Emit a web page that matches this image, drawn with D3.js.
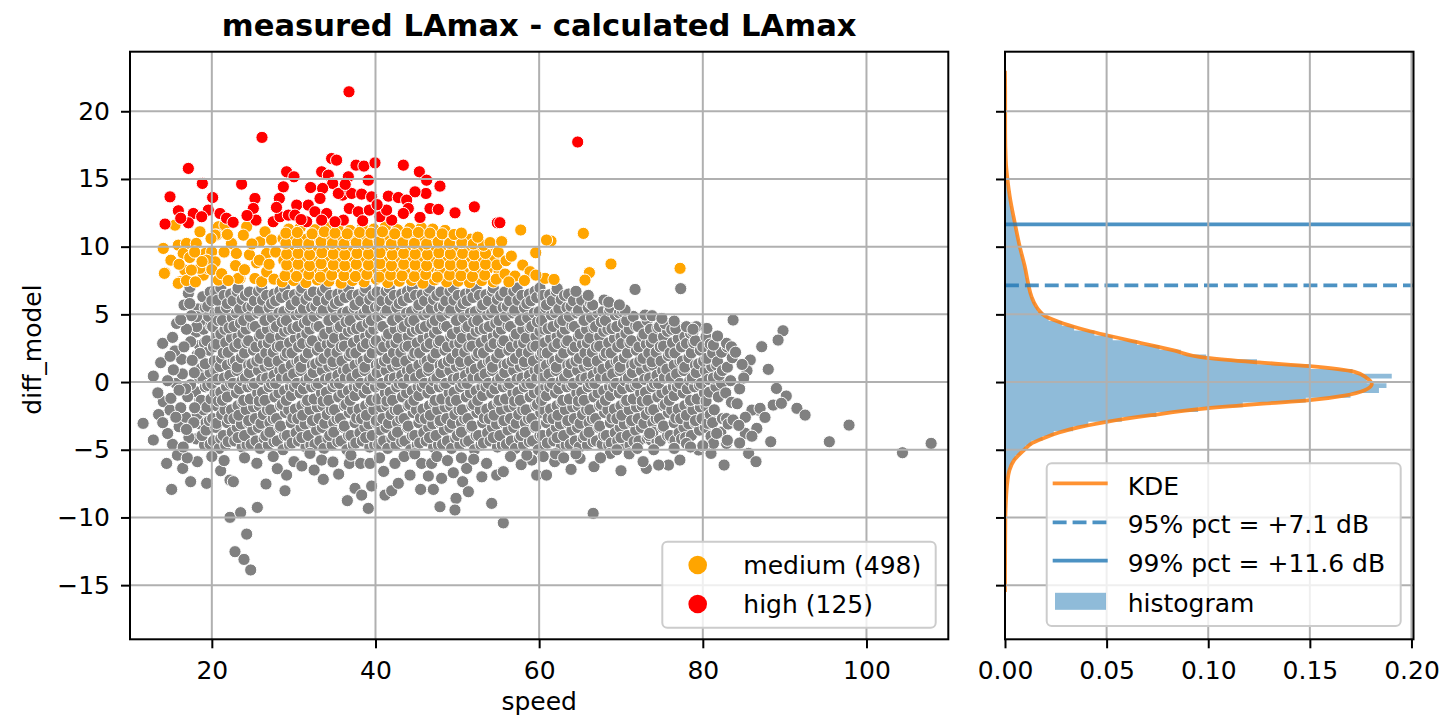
<!DOCTYPE html>
<html>
<head>
<meta charset="utf-8">
<script src="https://cdn.jsdelivr.net/npm/d3@7"></script>
<style>
body { margin: 0; background: #fff; }
svg { display: block; font-family: "DejaVu Sans", sans-serif; }
</style>
</head>
<body>
<svg id="chart" width="1448" height="719"></svg>
<script>
// ---- data ----
var speedTicks = [20, 40, 60, 80, 100];
var diffTicks = [-15, -10, -5, 0, 5, 10, 15, 20];
var densityTicks = [0, 0.05, 0.10, 0.15, 0.20];

var classNames = ['medium', 'high'];
var classCounts = [498, 125];

// percentile lines (dB)
var pct95 = 7.14;
var pct99 = 11.64;

// high points [speed, diff]
var highPts = [
  [36.76,21.44],[26.13,18.07],[17.13,15.78],[18.84,14.67],[14.89,13.68],[20.1,13.63],[23.64,14.62],
  [15.91,12.65],[17.74,12.45],[19.57,12.7],[21.0,12.45],[14.28,11.67],[17.13,11.76],[18.76,12.21],
  [21.8,12.1],[25.27,13.56],[25.07,12.82],[25.4,11.96],[27.5,11.84],[28.33,12.21],[28.25,13.56],
  [28.74,14.42],[29.14,15.53],[30.04,15.16],[30.37,13.07],[29.35,12.33],[30.16,12.33],[31.79,13.07],
  [32.08,14.37],[33.42,15.53],[34.64,16.51],[35.25,16.39],[34.24,15.28],[34.77,14.67],[33.54,14.3],
  [33.22,13.56],[32.6,12.58],[34.03,12.45],[33.42,11.96],[31.59,11.84],[36.68,15.16],[37.62,16.02],
  [38.59,15.95],[39.94,16.19],[39.12,14.91],[35.99,13.81],[37.09,13.93],[38.31,13.88],[39.53,13.68],
  [36.8,12.82],[37.9,12.58],[39.25,12.7],[36.07,11.96],[38.43,11.91],[40.55,12.21],[41.57,13.73],
  [42.79,13.63],[43.4,16.02],[45.36,15.53],[46.25,14.91],[47.88,14.47],[46.17,13.93],[44.83,14.05],
  [43.81,13.44],[44.01,12.82],[43.4,12.45],[45.44,12.16],[46.66,12.82],[47.68,12.75],[49.72,12.5],
  [52.08,12.94],[54.89,11.76],[41.98,11.96],[41.36,12.7],[35.05,11.84],[35.46,13.93],[64.71,17.73],
  [55.2,11.77],[30.9,12.0],[27.9,12.9],[24.3,12.3],[16.2,12.1],[22.6,11.8],[40.2,13.1],[36.3,14.6]
];

// medium points [speed, diff]
var mediumPts = [
  [15.5,11.59],[14.07,9.87],[14.28,8.07],[15.9,10.11],[16.9,10.24],[16.5,9.5],[18.55,11.1],[18.1,10.24],
  [19.2,9.5],[19.98,9.62],[16.7,8.27],[16.11,7.41],[18.96,7.9],[19.57,8.39],[20.4,8.88],[20.8,7.53],
  [20.8,11.47],[21.6,11.59],[20.59,10.85],[22.42,10.24],[23.44,7.65],[24.26,11.47],[23.85,10.85],
  [25.48,8.81],[25.27,7.65],[26.09,7.41],[26.7,8.14],[25.88,10.36],[26.5,11.1],[26.7,9.5],
  [14.2,8.03],[15.9,7.29],[16.9,7.5],[18.55,8.4],[19.37,9.0],[20.4,10.86],[22.4,10.24],[23.24,7.66],
  [17.5,8.27],[27.3,10.5],[27.6,7.6],[24.6,9.4],[17.3,9.2],[21.5,9.6],[22.9,8.6],[19.9,10.6],
  [15.0,9.0],[16.0,8.7],[17.9,9.6],[18.8,8.9],[20.0,8.3],[21.2,8.0],[21.9,10.9],[23.0,9.5],
  [24.0,8.3],[24.9,10.2],[25.8,9.0],[27.0,8.7],[27.8,9.6],[22.0,7.5],[18.0,7.4],
  [28.6,7.4],[30.0,7.5],[31.5,7.35],[32.9,7.55],[34.3,7.45],[35.8,7.3],[37.2,7.5],[38.6,7.4],[40.1,7.6],
  [41.5,7.35],[42.9,7.45],[44.4,7.5],[45.8,7.3],[47.2,7.55],[48.7,7.4],[50.1,7.45],[51.5,7.35],[53.0,7.5],[54.4,7.4],
  [29.3,8.3],[30.7,8.15],[32.2,8.35],[33.6,8.2],[35.0,8.25],[36.5,8.4],[37.9,8.1],[39.3,8.3],[40.8,8.2],
  [42.2,8.35],[43.6,8.15],[45.1,8.25],[46.5,8.4],[47.9,8.2],[49.4,8.3],[50.8,8.1],[52.2,8.25],[53.7,8.35],[55.1,8.2],
  [28.8,9.0],[30.2,9.15],[31.6,8.95],[33.0,9.1],[34.5,9.05],[35.9,8.9],[37.3,9.2],[38.8,9.0],[40.2,9.1],
  [41.6,8.95],[43.1,9.05],[44.5,9.15],[45.9,9.0],[47.4,8.9],[48.8,9.1],[50.2,9.05],[51.7,8.95],[53.1,9.1],[54.5,9.0],
  [29.5,9.8],[30.9,9.9],[32.3,9.75],[33.8,9.95],[35.2,9.85],[36.6,9.7],[38.1,9.9],[39.5,9.8],[40.9,9.95],
  [42.4,9.75],[43.8,9.85],[45.2,9.9],[46.7,9.8],[48.1,9.7],[49.5,9.9],[51.0,9.85],[52.4,9.75],[53.8,9.9],
  [28.7,10.6],[30.1,10.7],[31.5,10.55],[33.0,10.75],[34.4,10.65],[35.8,10.5],[37.3,10.7],[38.7,10.6],[40.1,10.75],
  [41.6,10.55],[43.0,10.65],[44.4,10.7],[45.9,10.6],[47.3,10.5],[48.7,10.7],[50.2,10.65],[51.6,10.55],
  [29.4,11.3],[30.8,11.4],[32.6,11.25],[34.1,11.45],[35.4,11.35],[36.9,11.2],[38.4,11.4],[39.8,11.3],
  [41.2,11.45],[42.7,11.25],[44.2,11.35],[45.6,11.4],[47.0,11.3],[48.5,11.2],
  [28.95,7.85],[30.35,7.8],[31.85,7.95],[33.25,7.75],[34.65,7.9],[36.15,7.85],[37.55,7.8],[38.95,7.95],[40.45,7.75],
  [41.85,7.9],[43.25,7.85],[44.75,7.8],[46.15,7.95],[47.55,7.75],[49.05,7.9],[50.45,7.85],[51.85,7.8],[53.35,7.9],[54.75,7.6],
  [29.15,8.65],[30.55,8.7],[31.95,8.6],[33.35,8.75],[34.85,8.65],[36.25,8.6],[37.65,8.7],[39.15,8.65],[40.55,8.75],
  [41.95,8.6],[43.45,8.7],[44.85,8.65],[46.25,8.6],[47.75,8.75],[49.15,8.65],[50.55,8.7],[52.05,8.6],[53.45,8.7],[54.85,8.65],
  [29.15,9.45],[30.55,9.5],[31.95,9.4],[33.45,9.55],[34.85,9.45],[36.25,9.4],[37.75,9.5],[39.15,9.45],[40.55,9.55],
  [42.05,9.4],[43.45,9.5],[44.85,9.45],[46.35,9.4],[47.75,9.55],[49.15,9.45],[50.65,9.5],[52.05,9.4],[53.45,9.5],
  [29.05,10.25],[30.45,10.3],[31.85,10.2],[33.35,10.35],[34.75,10.25],[36.15,10.2],[37.65,10.3],[39.05,10.25],[40.45,10.35],
  [41.95,10.2],[43.35,10.3],[44.75,10.25],[46.25,10.2],[47.65,10.35],[49.05,10.25],[50.55,10.3],[51.95,10.2],[53.2,10.1],
  [29.05,11.0],[30.45,11.05],[32.25,10.95],[33.75,11.1],[35.05,11.0],[36.55,10.95],[38.05,11.05],[39.45,11.0],
  [40.85,11.1],[42.35,10.95],[43.85,11.0],[45.25,11.05],[46.65,11.0],[48.15,10.95],[49.6,10.9],
  [50.5,11.0],[52.5,10.7],[54.0,10.3],[55.0,9.6],
  [57.75,11.23],[55.42,10.37],[61.45,10.42],[65.4,10.98],[59.58,9.55],[55.95,8.96],[57.99,8.64],
  [55.83,7.98],[57.05,7.83],[58.89,8.15],[60.72,7.66],[61.82,7.58],[66.14,8.08],[65.6,7.53],
  [68.78,8.72],[77.22,8.4],[60.9,10.49],[56.6,9.3],[56.3,7.4],[58.2,7.5],[59.6,7.9]
];

// gray points, dense core, one band per speed step [speed, diff]
var grayBands = [
  [[18.1,-4.2],[18.6,-3.1],[18.2,-2.4],[18.5,-1.4],[18.0,-0.7],[18.4,0.3],[18.7,1.0],[18.2,2.0],[18.5,2.7],[18.1,3.7],[18.6,4.4],[18.3,5.4]],
  [[19.8,-4.6],[19.3,-3.55],[19.7,-2.85],[19.4,-1.85],[19.9,-1.25],[19.5,-0.25],[19.8,0.7],[19.2,1.35],[19.7,2.35],[19.4,3.05],[19.9,4.15],[19.6,4.85],[19.5,5.6],[19.8,6.65]],
  [[20.9,-4.9],[21.1,-4.15],[20.6,-3.05],[21.2,-2.4],[20.8,-1.4],[21.1,-0.75],[20.7,0.2],[21.0,1.15],[21.2,1.75],[20.6,2.8],[21.1,3.55],[20.8,4.55],[21.0,5.3],[20.7,6.05],[21.1,6.95]],
  [[22.0,-4.4],[22.5,-3.7],[22.1,-2.7],[22.4,-2.05],[21.9,-1.1],[22.3,-0.1],[22.2,0.5],[22.6,1.5],[22.0,2.2],[22.4,3.25],[22.1,4.0],[22.5,4.75],[21.9,5.8],[22.3,6.5]],
  [[23.7,-4.8],[23.2,-4.1],[23.6,-3.1],[23.3,-2.45],[23.8,-1.5],[23.4,-0.5],[23.7,0.1],[23.1,1.1],[23.6,1.8],[23.3,2.85],[23.8,3.6],[23.5,4.35],[23.4,5.4],[23.7,6.1],[23.2,6.95]],
  [[24.8,-4.6],[25.0,-3.55],[24.5,-2.85],[25.1,-1.85],[24.7,-1.25],[25.0,-0.25],[24.6,0.7],[24.9,1.35],[25.1,2.35],[24.5,3.05],[25.0,4.15],[24.7,4.85],[24.9,5.6],[24.6,6.65]],
  [[25.9,-4.9],[26.4,-4.15],[26.0,-3.05],[26.3,-2.4],[25.8,-1.4],[26.2,-0.75],[26.1,0.2],[26.5,1.15],[25.9,1.75],[26.3,2.8],[26.0,3.55],[26.4,4.55],[25.8,5.3],[26.2,6.05],[26.1,6.95]],
  [[27.6,-4.4],[27.1,-3.7],[27.5,-2.7],[27.2,-2.05],[27.7,-1.1],[27.3,-0.1],[27.6,0.5],[27.0,1.5],[27.5,2.2],[27.2,3.25],[27.7,4.0],[27.4,4.75],[27.3,5.8],[27.6,6.5]],
  [[28.7,-5.0],[28.9,-3.95],[28.4,-3.25],[29.0,-2.25],[28.6,-1.65],[28.9,-0.65],[28.5,0.3],[28.8,0.95],[29.0,1.95],[28.4,2.65],[28.9,3.75],[28.6,4.45],[28.8,5.2],[28.5,6.25],[28.9,6.95]],
  [[29.8,-4.5],[30.3,-3.75],[29.9,-2.65],[30.2,-2.0],[29.7,-1.0],[30.1,-0.35],[30.0,0.6],[30.4,1.55],[29.8,2.15],[30.2,3.2],[29.9,3.95],[30.3,4.95],[29.7,5.7],[30.1,6.45]],
  [[31.5,-4.8],[31.0,-4.1],[31.4,-3.1],[31.1,-2.45],[31.6,-1.5],[31.2,-0.5],[31.5,0.1],[30.9,1.1],[31.4,1.8],[31.1,2.85],[31.6,3.6],[31.3,4.35],[31.2,5.4],[31.5,6.1],[31.0,6.95]],
  [[32.6,-4.6],[32.8,-3.55],[32.3,-2.85],[32.9,-1.85],[32.5,-1.25],[32.8,-0.25],[32.4,0.7],[32.7,1.35],[32.9,2.35],[32.3,3.05],[32.8,4.15],[32.5,4.85],[32.7,5.6],[32.4,6.65]],
  [[33.7,-4.9],[34.2,-4.15],[33.8,-3.05],[34.1,-2.4],[33.6,-1.4],[34.0,-0.75],[33.9,0.2],[34.3,1.15],[33.7,1.75],[34.1,2.8],[33.8,3.55],[34.2,4.55],[33.6,5.3],[34.0,6.05],[33.9,6.95]],
  [[35.4,-4.4],[34.9,-3.7],[35.3,-2.7],[35.0,-2.05],[35.5,-1.1],[35.1,-0.1],[35.4,0.5],[34.8,1.5],[35.3,2.2],[35.0,3.25],[35.5,4.0],[35.2,4.75],[35.1,5.8],[35.4,6.5]],
  [[36.5,-5.0],[36.7,-3.95],[36.2,-3.25],[36.8,-2.25],[36.4,-1.65],[36.7,-0.65],[36.3,0.3],[36.6,0.95],[36.8,1.95],[36.2,2.65],[36.7,3.75],[36.4,4.45],[36.6,5.2],[36.3,6.25],[36.7,6.95]],
  [[37.6,-4.5],[38.1,-3.75],[37.7,-2.65],[38.0,-2.0],[37.5,-1.0],[37.9,-0.35],[37.8,0.6],[38.2,1.55],[37.6,2.15],[38.0,3.2],[37.7,3.95],[38.1,4.95],[37.5,5.7],[37.9,6.45]],
  [[39.3,-4.8],[38.8,-4.1],[39.2,-3.1],[38.9,-2.45],[39.4,-1.5],[39.0,-0.5],[39.3,0.1],[38.7,1.1],[39.2,1.8],[38.9,2.85],[39.4,3.6],[39.1,4.35],[39.0,5.4],[39.3,6.1],[38.8,6.95]],
  [[40.4,-4.6],[40.6,-3.55],[40.1,-2.85],[40.7,-1.85],[40.3,-1.25],[40.6,-0.25],[40.2,0.7],[40.5,1.35],[40.7,2.35],[40.1,3.05],[40.6,4.15],[40.3,4.85],[40.5,5.6],[40.2,6.65]],
  [[41.5,-4.9],[42.0,-4.15],[41.6,-3.05],[41.9,-2.4],[41.4,-1.4],[41.8,-0.75],[41.7,0.2],[42.1,1.15],[41.5,1.75],[41.9,2.8],[41.6,3.55],[42.0,4.55],[41.4,5.3],[41.8,6.05],[41.7,6.95]],
  [[43.2,-4.4],[42.7,-3.7],[43.1,-2.7],[42.8,-2.05],[43.3,-1.1],[42.9,-0.1],[43.2,0.5],[42.6,1.5],[43.1,2.2],[42.8,3.25],[43.3,4.0],[43.0,4.75],[42.9,5.8],[43.2,6.5]],
  [[44.3,-5.0],[44.5,-3.95],[44.0,-3.25],[44.6,-2.25],[44.2,-1.65],[44.5,-0.65],[44.1,0.3],[44.4,0.95],[44.6,1.95],[44.0,2.65],[44.5,3.75],[44.2,4.45],[44.4,5.2],[44.1,6.25],[44.5,6.95]],
  [[45.4,-4.5],[45.9,-3.75],[45.5,-2.65],[45.8,-2.0],[45.3,-1.0],[45.7,-0.35],[45.6,0.6],[46.0,1.55],[45.4,2.15],[45.8,3.2],[45.5,3.95],[45.9,4.95],[45.3,5.7],[45.7,6.45]],
  [[47.1,-4.8],[46.6,-4.1],[47.0,-3.1],[46.7,-2.45],[47.2,-1.5],[46.8,-0.5],[47.1,0.1],[46.5,1.1],[47.0,1.8],[46.7,2.85],[47.2,3.6],[46.9,4.35],[46.8,5.4],[47.1,6.1],[46.6,6.95]],
  [[48.2,-4.6],[48.4,-3.55],[47.9,-2.85],[48.5,-1.85],[48.1,-1.25],[48.4,-0.25],[48.0,0.7],[48.3,1.35],[48.5,2.35],[47.9,3.05],[48.4,4.15],[48.1,4.85],[48.3,5.6],[48.0,6.65]],
  [[49.3,-4.9],[49.8,-4.15],[49.4,-3.05],[49.7,-2.4],[49.2,-1.4],[49.6,-0.75],[49.5,0.2],[49.9,1.15],[49.3,1.75],[49.7,2.8],[49.4,3.55],[49.8,4.55],[49.2,5.3],[49.6,6.05],[49.5,6.95]],
  [[51.0,-4.4],[50.5,-3.7],[50.9,-2.7],[50.6,-2.05],[51.1,-1.1],[50.7,-0.1],[51.0,0.5],[50.4,1.5],[50.9,2.2],[50.6,3.25],[51.1,4.0],[50.8,4.75],[50.7,5.8],[51.0,6.5]],
  [[52.1,-5.0],[52.3,-3.95],[51.8,-3.25],[52.4,-2.25],[52.0,-1.65],[52.3,-0.65],[51.9,0.3],[52.2,0.95],[52.4,1.95],[51.8,2.65],[52.3,3.75],[52.0,4.45],[52.2,5.2],[51.9,6.25],[52.3,6.95]],
  [[53.2,-4.5],[53.7,-3.75],[53.3,-2.65],[53.6,-2.0],[53.1,-1.0],[53.5,-0.35],[53.4,0.6],[53.8,1.55],[53.2,2.15],[53.6,3.2],[53.3,3.95],[53.7,4.95],[53.1,5.7],[53.5,6.45]],
  [[54.9,-4.8],[54.4,-4.1],[54.8,-3.1],[54.5,-2.45],[55.0,-1.5],[54.6,-0.5],[54.9,0.1],[54.3,1.1],[54.8,1.8],[54.5,2.85],[55.0,3.6],[54.7,4.35],[54.6,5.4],[54.9,6.1],[54.4,6.95]],
  [[56.0,-4.6],[56.2,-3.55],[55.7,-2.85],[56.3,-1.85],[55.9,-1.25],[56.2,-0.25],[55.8,0.7],[56.1,1.35],[56.3,2.35],[55.7,3.05],[56.2,4.15],[55.9,4.85],[56.1,5.6],[55.8,6.65]],
  [[57.1,-4.9],[57.6,-4.15],[57.2,-3.05],[57.5,-2.4],[57.0,-1.4],[57.4,-0.75],[57.3,0.2],[57.7,1.15],[57.1,1.75],[57.5,2.8],[57.2,3.55],[57.6,4.55],[57.0,5.3],[57.4,6.05],[57.3,6.95]],
  [[58.8,-4.4],[58.3,-3.7],[58.7,-2.7],[58.4,-2.05],[58.9,-1.1],[58.5,-0.1],[58.8,0.5],[58.2,1.5],[58.7,2.2],[58.4,3.25],[58.9,4.0],[58.6,4.75],[58.5,5.8],[58.8,6.5]],
  [[59.9,-5.0],[60.1,-3.95],[59.6,-3.25],[60.2,-2.25],[59.8,-1.65],[60.1,-0.65],[59.7,0.3],[60.0,0.95],[60.2,1.95],[59.6,2.65],[60.1,3.75],[59.8,4.45],[60.0,5.2],[59.7,6.25],[60.1,6.95]],
  [[61.0,-4.5],[61.5,-3.75],[61.1,-2.65],[61.4,-2.0],[60.9,-1.0],[61.3,-0.35],[61.2,0.6],[61.6,1.55],[61.0,2.15],[61.4,3.2],[61.1,3.95],[61.5,4.95],[60.9,5.7],[61.3,6.45]],
  [[62.7,-4.8],[62.2,-4.1],[62.6,-3.1],[62.3,-2.45],[62.8,-1.5],[62.4,-0.5],[62.7,0.1],[62.1,1.1],[62.6,1.8],[62.3,2.85],[62.8,3.6],[62.5,4.35],[62.4,5.4],[62.7,6.1],[62.2,6.9]],
  [[63.8,-4.6],[64.0,-3.55],[63.5,-2.85],[64.1,-1.85],[63.7,-1.25],[64.0,-0.25],[63.6,0.7],[63.9,1.35],[64.1,2.35],[63.5,3.05],[64.0,4.15],[63.7,4.85],[63.9,5.6],[63.6,6.5]],
  [[64.9,-4.8],[65.4,-4.15],[65.0,-3.05],[65.3,-2.4],[64.8,-1.4],[65.2,-0.75],[65.1,0.2],[65.5,1.15],[64.9,1.75],[65.3,2.8],[65.0,3.55],[65.4,4.55],[64.8,5.3],[65.2,6.05]],
  [[66.6,-4.4],[66.1,-3.7],[66.5,-2.7],[66.2,-2.05],[66.7,-1.1],[66.3,-0.1],[66.6,0.5],[66.0,1.5],[66.5,2.2],[66.2,3.25],[66.7,4.0],[66.4,4.75],[66.3,5.8]],
  [[67.7,-4.6],[67.9,-3.95],[67.4,-3.25],[68.0,-2.25],[67.6,-1.65],[67.9,-0.65],[67.5,0.3],[67.8,0.95],[68.0,1.95],[67.4,2.65],[67.9,3.75],[67.6,4.45],[67.8,5.2]],
  [[68.8,-4.5],[69.3,-3.75],[68.9,-2.65],[69.2,-2.0],[68.7,-1.0],[69.1,-0.35],[69.0,0.6],[69.4,1.55],[68.8,2.15],[69.2,3.2],[68.9,3.95],[69.3,4.95],[68.7,5.5]],
  [[70.5,-4.6],[70.0,-4.1],[70.4,-3.1],[70.1,-2.45],[70.6,-1.5],[70.2,-0.5],[70.5,0.1],[69.9,1.1],[70.4,1.8],[70.1,2.85],[70.6,3.6],[70.3,4.35],[70.2,5.2]],
  [[71.6,-4.4],[71.8,-3.55],[71.3,-2.85],[71.9,-1.85],[71.5,-1.25],[71.8,-0.25],[71.4,0.7],[71.7,1.35],[71.9,2.35],[71.3,3.05],[71.8,4.15],[71.5,4.85]],
  [[73.2,-4.15],[72.8,-3.05],[73.1,-2.4],[72.6,-1.4],[73.0,-0.75],[72.9,0.2],[73.3,1.15],[72.7,1.75],[73.1,2.8],[72.8,3.55],[73.2,4.55]],
  [[74.4,-4.4],[73.9,-3.7],[74.3,-2.7],[74.0,-2.05],[74.5,-1.1],[74.1,-0.1],[74.4,0.5],[73.8,1.5],[74.3,2.2],[74.0,3.25],[74.5,4.0]],
  [[75.7,-3.95],[75.2,-3.25],[75.8,-2.25],[75.4,-1.65],[75.7,-0.65],[75.3,0.3],[75.6,0.95],[75.8,1.95],[75.2,2.65],[75.7,3.75],[75.4,4.3]],
  [[76.6,-4.3],[77.1,-3.75],[76.7,-2.65],[77.0,-2.0],[76.5,-1.0],[76.9,-0.35],[76.8,0.6],[77.2,1.55],[76.6,2.15],[77.0,3.2],[76.7,3.95]],
  [[77.9,-4.1],[78.3,-3.1],[78.0,-2.45],[78.5,-1.5],[78.1,-0.5],[78.4,0.1],[77.8,1.1],[78.3,1.8],[78.0,2.85],[78.5,3.6]],
  [[79.6,-3.55],[79.1,-2.85],[79.7,-1.85],[79.3,-1.25],[79.6,-0.25],[79.2,0.7],[79.5,1.35],[79.7,2.35],[79.1,3.05]],
  [[81.0,-4.0],[80.6,-3.05],[80.9,-2.4],[80.4,-1.4],[80.8,-0.75],[80.7,0.2],[81.1,1.15],[80.5,1.75],[80.9,2.8]],
  [[82.2,-3.7],[82.4,-2.7],[81.9,-1.1],[82.3,-0.1],[82.0,0.5],[81.8,1.5],[82.3,2.2]],
  [[83.1,-3.1],[83.5,-1.5],[83.4,0.1],[83.0,1.1],[83.6,1.8]]
];

// gray points between the bands above [speed, diff]
var grayBands2 = [
  [[19.1,-4.65],[18.8,-3.95],[19.3,-3.0],[19.0,-2.05],[18.7,-1.35],[19.2,-0.35],[18.9,0.3],[19.3,1.25],[18.8,2.15],[19.1,2.9],[19.0,3.9],[18.7,4.55],[19.2,5.5],[18.9,6.3]],
  [[20.2,-4.35],[20.5,-3.35],[20.1,-2.7],[20.6,-1.75],[20.4,-0.8],[20.0,-0.1],[20.5,0.85],[20.3,1.55],[20.2,2.6],[20.6,3.35],[20.1,4.1],[20.4,5.1],[20.0,6.0],[20.5,6.7]],
  [[21.7,-4.65],[21.4,-3.95],[21.9,-3.0],[21.6,-2.05],[21.3,-1.35],[21.8,-0.35],[21.5,0.3],[21.9,1.25],[21.4,2.15],[21.7,2.9],[21.6,3.9],[21.3,4.55],[21.8,5.5],[21.5,6.4]],
  [[22.8,-4.35],[23.1,-3.35],[22.7,-2.7],[23.2,-1.75],[23.0,-0.8],[22.6,-0.1],[23.1,0.85],[22.9,1.55],[22.8,2.6],[23.2,3.35],[22.7,4.1],[23.0,5.1],[22.6,6.0],[23.1,6.7]],
  [[24.3,-4.65],[24.0,-3.95],[24.5,-3.0],[24.2,-2.05],[23.9,-1.35],[24.4,-0.35],[24.1,0.3],[24.5,1.25],[24.0,2.15],[24.3,2.9],[24.2,3.9],[23.9,4.55],[24.4,5.5],[24.1,6.4]],
  [[25.4,-4.35],[25.7,-3.35],[25.3,-2.7],[25.8,-1.75],[25.6,-0.8],[25.2,-0.1],[25.7,0.85],[25.5,1.55],[25.4,2.6],[25.8,3.35],[25.3,4.1],[25.6,5.1],[25.2,6.0],[25.7,6.7]],
  [[26.9,-4.65],[26.6,-3.95],[27.1,-3.0],[26.8,-2.05],[26.5,-1.35],[27.0,-0.35],[26.7,0.3],[27.1,1.25],[26.6,2.15],[26.9,2.9],[26.8,3.9],[26.5,4.55],[27.0,5.5],[26.7,6.4]],
  [[28.0,-4.35],[28.3,-3.35],[27.9,-2.7],[28.4,-1.75],[28.2,-0.8],[27.8,-0.1],[28.3,0.85],[28.1,1.55],[28.0,2.6],[28.4,3.35],[27.9,4.1],[28.2,5.1],[27.8,6.0],[28.3,6.7]],
  [[29.5,-4.65],[29.2,-3.95],[29.7,-3.0],[29.4,-2.05],[29.1,-1.35],[29.6,-0.35],[29.3,0.3],[29.7,1.25],[29.2,2.15],[29.5,2.9],[29.4,3.9],[29.1,4.55],[29.6,5.5],[29.3,6.4]],
  [[30.6,-4.35],[30.9,-3.35],[30.5,-2.7],[31.0,-1.75],[30.8,-0.8],[30.4,-0.1],[30.9,0.85],[30.7,1.55],[30.6,2.6],[31.0,3.35],[30.5,4.1],[30.8,5.1],[30.4,6.0],[30.9,6.7]],
  [[32.1,-4.65],[31.8,-3.95],[32.3,-3.0],[32.0,-2.05],[31.7,-1.35],[32.2,-0.35],[31.9,0.3],[32.3,1.25],[31.8,2.15],[32.1,2.9],[32.0,3.9],[31.7,4.55],[32.2,5.5],[31.9,6.4]],
  [[33.2,-4.35],[33.5,-3.35],[33.1,-2.7],[33.6,-1.75],[33.4,-0.8],[33.0,-0.1],[33.5,0.85],[33.3,1.55],[33.2,2.6],[33.6,3.35],[33.1,4.1],[33.4,5.1],[33.0,6.0],[33.5,6.7]],
  [[34.7,-4.65],[34.4,-3.95],[34.9,-3.0],[34.6,-2.05],[34.3,-1.35],[34.8,-0.35],[34.5,0.3],[34.9,1.25],[34.4,2.15],[34.7,2.9],[34.6,3.9],[34.3,4.55],[34.8,5.5],[34.5,6.4]],
  [[35.8,-4.35],[36.1,-3.35],[35.7,-2.7],[36.2,-1.75],[36.0,-0.8],[35.6,-0.1],[36.1,0.85],[35.9,1.55],[35.8,2.6],[36.2,3.35],[35.7,4.1],[36.0,5.1],[35.6,6.0],[36.1,6.7]],
  [[37.3,-4.65],[37.0,-3.95],[37.5,-3.0],[37.2,-2.05],[36.9,-1.35],[37.4,-0.35],[37.1,0.3],[37.5,1.25],[37.0,2.15],[37.3,2.9],[37.2,3.9],[36.9,4.55],[37.4,5.5],[37.1,6.4]],
  [[38.4,-4.35],[38.7,-3.35],[38.3,-2.7],[38.8,-1.75],[38.6,-0.8],[38.2,-0.1],[38.7,0.85],[38.5,1.55],[38.4,2.6],[38.8,3.35],[38.3,4.1],[38.6,5.1],[38.2,6.0],[38.7,6.7]],
  [[39.9,-4.65],[39.6,-3.95],[40.1,-3.0],[39.8,-2.05],[39.5,-1.35],[40.0,-0.35],[39.7,0.3],[40.1,1.25],[39.6,2.15],[39.9,2.9],[39.8,3.9],[39.5,4.55],[40.0,5.5],[39.7,6.4]],
  [[41.0,-4.35],[41.3,-3.35],[40.9,-2.7],[41.4,-1.75],[41.2,-0.8],[40.8,-0.1],[41.3,0.85],[41.1,1.55],[41.0,2.6],[41.4,3.35],[40.9,4.1],[41.2,5.1],[40.8,6.0],[41.3,6.7]],
  [[42.5,-4.65],[42.2,-3.95],[42.7,-3.0],[42.4,-2.05],[42.1,-1.35],[42.6,-0.35],[42.3,0.3],[42.7,1.25],[42.2,2.15],[42.5,2.9],[42.4,3.9],[42.1,4.55],[42.6,5.5],[42.3,6.4]],
  [[43.6,-4.35],[43.9,-3.35],[43.5,-2.7],[44.0,-1.75],[43.8,-0.8],[43.4,-0.1],[43.9,0.85],[43.7,1.55],[43.6,2.6],[44.0,3.35],[43.5,4.1],[43.8,5.1],[43.4,6.0],[43.9,6.7]],
  [[45.1,-4.65],[44.8,-3.95],[45.3,-3.0],[45.0,-2.05],[44.7,-1.35],[45.2,-0.35],[44.9,0.3],[45.3,1.25],[44.8,2.15],[45.1,2.9],[45.0,3.9],[44.7,4.55],[45.2,5.5],[44.9,6.4]],
  [[46.2,-4.35],[46.5,-3.35],[46.1,-2.7],[46.6,-1.75],[46.4,-0.8],[46.0,-0.1],[46.5,0.85],[46.3,1.55],[46.2,2.6],[46.6,3.35],[46.1,4.1],[46.4,5.1],[46.0,6.0],[46.5,6.7]],
  [[47.7,-4.65],[47.4,-3.95],[47.9,-3.0],[47.6,-2.05],[47.3,-1.35],[47.8,-0.35],[47.5,0.3],[47.9,1.25],[47.4,2.15],[47.7,2.9],[47.6,3.9],[47.3,4.55],[47.8,5.5],[47.5,6.4]],
  [[48.8,-4.35],[49.1,-3.35],[48.7,-2.7],[49.2,-1.75],[49.0,-0.8],[48.6,-0.1],[49.1,0.85],[48.9,1.55],[48.8,2.6],[49.2,3.35],[48.7,4.1],[49.0,5.1],[48.6,6.0],[49.1,6.7]],
  [[50.3,-4.65],[50.0,-3.95],[50.5,-3.0],[50.2,-2.05],[49.9,-1.35],[50.4,-0.35],[50.1,0.3],[50.5,1.25],[50.0,2.15],[50.3,2.9],[50.2,3.9],[49.9,4.55],[50.4,5.5],[50.1,6.4]],
  [[51.4,-4.35],[51.7,-3.35],[51.3,-2.7],[51.8,-1.75],[51.6,-0.8],[51.2,-0.1],[51.7,0.85],[51.5,1.55],[51.4,2.6],[51.8,3.35],[51.3,4.1],[51.6,5.1],[51.2,6.0],[51.7,6.7]],
  [[52.9,-4.65],[52.6,-3.95],[53.1,-3.0],[52.8,-2.05],[52.5,-1.35],[53.0,-0.35],[52.7,0.3],[53.1,1.25],[52.6,2.15],[52.9,2.9],[52.8,3.9],[52.5,4.55],[53.0,5.5],[52.7,6.4]],
  [[54.0,-4.35],[54.3,-3.35],[53.9,-2.7],[54.4,-1.75],[54.2,-0.8],[53.8,-0.1],[54.3,0.85],[54.1,1.55],[54.0,2.6],[54.4,3.35],[53.9,4.1],[54.2,5.1],[53.8,6.0],[54.3,6.7]],
  [[55.5,-4.65],[55.2,-3.95],[55.7,-3.0],[55.4,-2.05],[55.1,-1.35],[55.6,-0.35],[55.3,0.3],[55.7,1.25],[55.2,2.15],[55.5,2.9],[55.4,3.9],[55.1,4.55],[55.6,5.5],[55.3,6.4]],
  [[56.6,-4.35],[56.9,-3.35],[56.5,-2.7],[57.0,-1.75],[56.8,-0.8],[56.4,-0.1],[56.9,0.85],[56.7,1.55],[56.6,2.6],[57.0,3.35],[56.5,4.1],[56.8,5.1],[56.4,6.0],[56.9,6.7]],
  [[58.1,-4.65],[57.8,-3.95],[58.3,-3.0],[58.0,-2.05],[57.7,-1.35],[58.2,-0.35],[57.9,0.3],[58.3,1.25],[57.8,2.15],[58.1,2.9],[58.0,3.9],[57.7,4.55],[58.2,5.5],[57.9,6.4]],
  [[59.2,-4.35],[59.5,-3.35],[59.1,-2.7],[59.6,-1.75],[59.4,-0.8],[59.0,-0.1],[59.5,0.85],[59.3,1.55],[59.2,2.6],[59.6,3.35],[59.1,4.1],[59.4,5.1],[59.0,6.0],[59.5,6.7]],
  [[60.7,-4.65],[60.4,-3.95],[60.9,-3.0],[60.6,-2.05],[60.3,-1.35],[60.8,-0.35],[60.5,0.3],[60.9,1.25],[60.4,2.15],[60.7,2.9],[60.6,3.9],[60.3,4.55],[60.8,5.5],[60.5,6.4]],
  [[61.8,-4.35],[62.1,-3.35],[61.7,-2.7],[62.2,-1.75],[62.0,-0.8],[61.6,-0.1],[62.1,0.85],[61.9,1.55],[61.8,2.6],[62.2,3.35],[61.7,4.1],[62.0,5.1],[61.6,6.0],[62.1,6.7]],
  [[63.3,-4.65],[63.0,-3.95],[63.5,-3.0],[63.2,-2.05],[62.9,-1.35],[63.4,-0.35],[63.1,0.3],[63.5,1.25],[63.0,2.15],[63.3,2.9],[63.2,3.9],[62.9,4.55],[63.4,5.5],[63.1,6.4]],
  [[64.4,-4.35],[64.7,-3.35],[64.3,-2.7],[64.8,-1.75],[64.6,-0.8],[64.2,-0.1],[64.7,0.85],[64.5,1.55],[64.4,2.6],[64.8,3.35],[64.3,4.1],[64.6,5.1],[64.2,6.0]],
  [[65.9,-4.65],[65.6,-3.95],[66.1,-3.0],[65.8,-2.05],[65.5,-1.35],[66.0,-0.35],[65.7,0.3],[66.1,1.25],[65.6,2.15],[65.9,2.9],[65.8,3.9],[65.5,4.55],[66.0,5.5]],
  [[67.0,-4.35],[67.3,-3.35],[66.9,-2.7],[67.4,-1.75],[67.2,-0.8],[66.8,-0.1],[67.3,0.85],[67.1,1.55],[67.0,2.6],[67.4,3.35],[66.9,4.1],[67.2,5.1]],
  [[68.5,-4.65],[68.2,-3.95],[68.7,-3.0],[68.4,-2.05],[68.1,-1.35],[68.6,-0.35],[68.3,0.3],[68.7,1.25],[68.2,2.15],[68.5,2.9],[68.4,3.9],[68.1,4.55],[68.6,5.3]],
  [[69.6,-4.35],[69.9,-3.35],[69.5,-2.7],[70.0,-1.75],[69.8,-0.8],[69.4,-0.1],[69.9,0.85],[69.7,1.55],[69.6,2.6],[70.0,3.35],[69.5,4.1],[69.8,5.1]],
  [[71.1,-4.65],[70.8,-3.95],[71.3,-3.0],[71.0,-2.05],[70.7,-1.35],[71.2,-0.35],[70.9,0.3],[71.3,1.25],[70.8,2.15],[71.1,2.9],[71.0,3.9],[70.7,4.55]],
  [[72.2,-4.35],[72.5,-3.35],[72.1,-2.7],[72.6,-1.75],[72.4,-0.8],[72.0,-0.1],[72.5,0.85],[72.3,1.55],[72.2,2.6],[72.6,3.35],[72.1,4.1]],
  [[73.7,-4.3],[73.4,-3.95],[73.9,-3.0],[73.6,-2.05],[73.3,-1.35],[73.8,-0.35],[73.5,0.3],[73.9,1.25],[73.4,2.15],[73.7,2.9],[73.6,3.9]],
  [[74.8,-4.35],[75.1,-3.35],[74.7,-2.7],[75.2,-1.75],[75.0,-0.8],[74.6,-0.1],[75.1,0.85],[74.9,1.55],[74.8,2.6],[75.2,3.35],[74.7,4.1]],
  [[76.3,-4.2],[76.0,-3.95],[76.5,-3.0],[76.2,-2.05],[75.9,-1.35],[76.4,-0.35],[76.1,0.3],[76.5,1.25],[76.0,2.15],[76.3,2.9],[76.2,3.9]],
  [[77.4,-4.2],[77.7,-3.35],[77.3,-2.7],[77.8,-1.75],[77.6,-0.8],[77.2,-0.1],[77.7,0.85],[77.5,1.55],[77.4,2.6],[77.8,3.35]],
  [[78.6,-3.95],[79.1,-3.0],[78.8,-2.05],[78.5,-1.35],[79.0,-0.35],[78.7,0.3],[79.1,1.25],[78.6,2.15],[78.9,2.9],[78.8,3.7]],
  [[80.3,-3.35],[79.9,-2.7],[80.4,-1.75],[80.2,-0.8],[79.8,-0.1],[80.3,0.85],[80.1,1.55],[80.0,2.6],[80.4,3.35]],
  [[81.2,-3.0],[81.4,-2.05],[81.6,-0.35],[81.3,0.3],[81.7,1.25],[81.2,2.15]],
  [[82.9,-2.7],[82.8,-0.8],[82.4,0.85],[83.0,2.6]]
];

// gray points, sparse fringe and outliers [speed, diff]
var grayFringe = [
  [11.6,-3.05],[12.85,-4.28],[14.48,-6.01],[15.09,-7.93],[16.44,-6.38],[17.41,-7.36],[18.23,-5.88],
  [19.37,-7.48],[21.08,-6.55],[22.22,-7.24],[22.63,-7.36],[22.22,-9.99],[23.52,-9.65],[24.26,-11.23],
  [22.83,-12.53],[23.93,-13.1],[24.75,-13.88],[25.56,-9.26],[26.62,-7.53],[28.94,-8.03],[29.14,-6.87],
  [30.04,-5.88],[31.99,-5.27],[33.42,-5.76],[33.62,-7.19],[36.56,-8.76],[37.5,-7.85],[38.31,-8.35],
  [39.12,-9.33],[39.53,-7.68],[36.8,-6.01],[38.19,-6.01],[39.33,-6.01],[41.16,-8.35],[41.98,-8.03],
  [42.38,-6.01],[42.79,-7.48],[44.22,-6.87],[45.52,-7.93],[45.64,-6.01],[46.86,-6.01],[47.07,-7.93],
  [46.46,-6.94],[47.88,-9.21],[48.08,-7.11],[49.51,-6.7],[49.84,-8.59],[49.71,-9.45],[50.65,-7.36],
  [51.35,-8.1],[51.14,-6.38],[53.58,-6.01],[54.2,-8.96],[55.62,-10.4],[54.81,-6.87],[55.62,-6.62],
  [59.7,-6.87],[60.9,-6.87],
  [97.87,-3.18],[95.46,-4.41],[104.4,-5.22],[107.9,-4.53],[88.3,-4.41],[86.6,-3.42],[85.6,-5.27],
  [86.5,-5.88],[82.6,-6.13],[81.0,-5.27],[79.5,-5.02],[77.2,-5.76],[75.8,-6.13],[74.6,-6.13],
  [73.1,-6.38],[72.7,-5.88],[70.0,-6.55],[66.7,-6.25],[66.6,-9.7],[63.9,-6.45],[61.9,-5.88],
  [59.1,-5.76],[65.0,-5.64],[68.7,-5.27],[88.6,-1.7],[91.5,-1.94],[92.5,-2.44],[81.3,-4.53],
  [82.9,-4.53],[85.2,-3.79],[86.8,-2.07],[83.7,-2.8],[81.7,-3.79],[78.0,-4.53],[73.5,-3.79],
  [77.3,6.9],[71.72,6.84],[67.93,6.06],[66.54,5.69],[72.94,4.95],[70.5,5.32],[78.0,4.09],[79.2,4.09],
  [80.5,3.96],[83.7,4.58],[89.8,3.79],[89.2,3.1],[87.2,2.61],[88.0,0.94],[85.8,1.63],[85.4,0.84],
  [82.9,2.86],[83.5,2.6],[81.3,2.73],[86.0,-2.07],[87.0,-1.94],[87.6,-2.61],[89.0,-0.47],[90.2,-1.03],
  [89.6,-1.57],[84.5,-0.5],[85.0,0.3],[84.2,-1.6],[85.2,-2.6],[84.4,-3.2],
  [17.13,6.55],[16.6,5.69],[17.33,7.0],[15.7,4.33],[13.99,2.86],[13.75,1.43],[16.31,1.68],[17.41,2.98],
  [12.85,0.44],[14.07,-1.45],[14.89,-2.07],[15.62,-0.1],[17.05,-1.08],[17.86,0.69],[18.55,2.12],
  [18.15,4.09],[18.15,4.83],[15.2,-4.6],[16.0,-3.3],[16.8,-2.6],[17.2,-4.1],[15.8,-5.4],[17.0,-5.6],
  [16.4,0.6],[17.4,-0.2],[16.9,3.9],[15.5,2.3],[14.6,-3.8],[13.5,-2.4],[16.2,-1.9],[17.6,1.6],
  [17.8,-3.0],[13.4,-0.8],[17.5,4.9],[16.8,-0.5],[17.9,-1.9],[16.5,-4.8],
  [14.0,-3.0],[15.0,-1.2],[15.3,0.9],[16.0,-0.6],[16.6,2.6],[15.2,3.3],[14.6,0.1],[16.9,-3.5],
  [15.6,-2.6],[17.3,5.8],[16.2,4.6],[14.9,1.9],
  [20.0,-5.5],[21.5,-5.8],[24.0,-5.6],[25.5,-6.0],[27.5,-5.5],[28.0,-6.4],[31.0,-6.2],[32.5,-6.5],
  [34.8,-5.9],[35.5,-6.8],[37.0,-5.4],[40.5,-5.6],[41.0,-6.6],[43.5,-5.5],[44.8,-5.3],[47.5,-5.5],
  [48.8,-5.8],[50.5,-5.6],[52.0,-5.7],[53.0,-7.0],[56.5,-5.5],[57.8,-6.1],[58.5,-5.4],[60.5,-5.5],
  [62.0,-5.3],[63.0,-5.6],[64.5,-5.3],[67.5,-5.6],[69.5,-5.0],[71.0,-5.3],[72.0,-4.9],[74.0,-5.0],
  [76.5,-4.9],[78.5,-4.8],[80.0,-4.7],[83.0,-4.3],[84.5,-4.5],[86.0,-4.0],
  [64.5,6.7],[66.0,6.4],[68.5,5.9],[69.8,5.7],[73.8,4.9],[75.0,4.7],[76.5,4.5],[78.8,3.9],
  [81.8,3.4],[84.0,2.2],[84.8,1.3]
];

// histogram: first bin edge, bin width, density per bin
var histLo = -13.9;
var histStep = 0.354;
var histDensity = [
  0.0002,0,0.0002,0.0002,0,0,0,0.0002,0,0.0002,
  0.0005,0.0005,0.0007,0.0009,0.0007,0.0009,0.0011,0.0011,0.0014,0.0016,
  0.0020,0.0027,0.0036,0.0052,0.0075,0.0100,0.0130,0.0185,0.0240,0.0335,
  0.0410,0.0575,0.0745,0.0950,0.1170,0.1480,0.1700,0.1840,0.1877,0.1780,
  0.1903,0.1710,0.1500,0.1240,0.0990,0.0865,0.0760,0.0650,0.0530,0.0440,
  0.0340,0.0280,0.0215,0.0185,0.0160,0.0148,0.0136,0.0128,0.0120,0.0112,
  0.0110,0.0104,0.0102,0.0096,0.0090,0.0085,0.0078,0.0072,0.0068,0.0062,
  0.0057,0.0052,0.0047,0.0042,0.0036,0.0032,0.0027,0.0025,0.0020,0.0016,
  0.0014,0.0011,0.0009,0.0007,0.0005,0.0002,0,0,0,0.0002,
  0,0,0,0,0,0,0,0,0,0.0002
];

// KDE curve
var kdeDiff = [-15.5,-12,-10,-8.7,-7.5,-6.5,-5.77,-5.0,-4.5,-4.05,-3.5,-2.94,-2.45,-1.95,-1.6,-1.34,-1.0,-0.6,
  -0.15,0.3,0.75,1.17,1.45,1.79,2.36,2.85,3.46,3.83,4.33,4.81,5.55,6.29,7.28,8.5,9.98,11.7,13.67,15.0,16.4,18.5,21.5,23.0];
var kdeDensity = [0,0.0001,0.0002,0.0005,0.0011,0.0022,0.0045,0.0095,0.0135,0.0205,0.032,0.05,0.072,0.0992,0.127,0.15,0.167,0.177,
  0.1805,0.178,0.172,0.15,0.125,0.0992,0.0825,0.068,0.05,0.040,0.0287,0.0205,0.0155,0.0131,0.0114,0.0098,0.0073,0.0049,0.0024,0.0012,0.0004,0.0001,0.0001,0];

// ---- layout ----
var svg = d3.select('#chart');
var fontSize = 25;
var gridColor = '#b0b0b0';
var L = {l: 130, r: 948.3, t: 51.7, b: 639.3};
var R = {l: 1005, r: 1413.5, t: 51.7, b: 639.3};

var xSpeed = d3.scaleLinear().domain([10, 110]).range([L.l, L.r]);
var yDiff = d3.scaleLinear().domain([-19.0, 24.4]).range([L.b, L.t]);
var xDens = d3.scaleLinear().domain([0, 0.201]).range([R.l, R.r]);

var defs = svg.append('defs');
defs.append('clipPath').attr('id', 'clipL').append('rect')
  .attr('x', L.l).attr('y', L.t).attr('width', L.r - L.l).attr('height', L.b - L.t);
defs.append('clipPath').attr('id', 'clipR').append('rect')
  .attr('x', R.l).attr('y', R.t).attr('width', R.r - R.l).attr('height', R.b - R.t);

// ---- left panel: scatter ----
var gL = svg.append('g').attr('clip-path', 'url(#clipL)');
var grayPts = d3.merge(d3.zip(grayBands, grayBands2.concat([[]])).map(function(p) { return p[0].concat(p[1] || []); }))
  .concat(grayFringe);

function drawPoints(pts, color) {
  gL.append('g').selectAll('circle').data(pts).enter().append('circle')
    .attr('cx', function(d) { return xSpeed(d[0]); })
    .attr('cy', function(d) { return yDiff(d[1]); })
    .attr('r', 6.1)
    .style('fill', color)
    .style('stroke', '#fff')
    .style('stroke-width', 1);
}
drawPoints(grayPts, '#808080');
drawPoints(mediumPts, '#ffa500');
drawPoints(highPts, '#ff0000');

// grid on top of the points (matplotlib zorder)
var gridL = svg.append('g').style('stroke', gridColor).style('stroke-width', 2);
gridL.selectAll('.gx').data(speedTicks).enter().append('line')
  .attr('x1', function(d) { return xSpeed(d); }).attr('x2', function(d) { return xSpeed(d); })
  .attr('y1', L.t).attr('y2', L.b);
gridL.selectAll('.gy').data(diffTicks).enter().append('line')
  .attr('x1', L.l).attr('x2', L.r)
  .attr('y1', function(d) { return yDiff(d); }).attr('y2', function(d) { return yDiff(d); });

// ---- right panel: histogram + KDE ----
var gR = svg.append('g').attr('clip-path', 'url(#clipR)');
var histPts = [[xDens(0), yDiff(histLo)]];
histDensity.forEach(function(d, i) {
  var lo = histLo + i * histStep, hi = lo + histStep;
  histPts.push([xDens(d), yDiff(lo)]);
  histPts.push([xDens(d), yDiff(hi)]);
});
histPts.push([xDens(0), yDiff(histLo + histDensity.length * histStep)]);
gR.append('path')
  .attr('d', d3.line()(histPts) + 'Z')
  .style('fill', '#1f77b4')
  .style('fill-opacity', 0.5)
  .style('stroke', 'none');

var gridR = svg.append('g').style('stroke', gridColor).style('stroke-width', 2);
gridR.selectAll('.gx').data(densityTicks).enter().append('line')
  .attr('x1', function(d) { return xDens(d); }).attr('x2', function(d) { return xDens(d); })
  .attr('y1', R.t).attr('y2', R.b);
gridR.selectAll('.gy').data(diffTicks).enter().append('line')
  .attr('x1', R.l).attr('x2', R.r)
  .attr('y1', function(d) { return yDiff(d); }).attr('y2', function(d) { return yDiff(d); });

var kde = d3.zip(kdeDiff, kdeDensity);
gR.append('path')
  .attr('d', d3.line()
    .x(function(d) { return xDens(d[1]); })
    .y(function(d) { return yDiff(d[0]); })
    .curve(d3.curveMonotoneY)(kde))
  .style('fill', 'none')
  .style('stroke', '#ff7f0e')
  .style('stroke-opacity', 0.85)
  .style('stroke-width', 3.75);

function pctLine(g, v, dashed) {
  g.append('line')
    .attr('x1', xDens(0)).attr('x2', R.r)
    .attr('y1', yDiff(v)).attr('y2', yDiff(v))
    .style('stroke', '#1f77b4')
    .style('stroke-opacity', 0.8)
    .style('stroke-width', 3.75)
    .style('stroke-dasharray', dashed ? '13.9,6' : null);
}
pctLine(gR, pct95, true);
pctLine(gR, pct99, false);

// ---- axes ----
function frame(b) {
  svg.append('rect')
    .attr('x', b.l).attr('y', b.t).attr('width', b.r - b.l).attr('height', b.b - b.t)
    .style('fill', 'none').style('stroke', '#000').style('stroke-width', 2);
}

function styleAxis(g) {
  g.select('.domain').remove();
  g.selectAll('.tick line').style('stroke', '#000').style('stroke-width', 2);
  g.selectAll('.tick text').style('font-size', fontSize + 'px').style('fill', '#000')
    .style('font-family', '"DejaVu Sans", sans-serif');
}

svg.append('g').attr('transform', 'translate(0,' + L.b + ')')
  .call(d3.axisBottom(xSpeed).tickValues(speedTicks).tickSize(9).tickPadding(13).tickFormat(d3.format('d')))
  .call(styleAxis);
svg.append('g').attr('transform', 'translate(' + L.l + ',0)')
  .call(d3.axisLeft(yDiff).tickValues(diffTicks).tickSize(9).tickPadding(11).tickFormat(d3.format('d')))
  .call(styleAxis);
svg.append('g').attr('transform', 'translate(0,' + R.b + ')')
  .call(d3.axisBottom(xDens).tickValues(densityTicks).tickSize(9).tickPadding(13).tickFormat(d3.format('.2f')))
  .call(styleAxis);
svg.append('g').attr('transform', 'translate(' + R.l + ',0)')
  .call(d3.axisLeft(yDiff).tickValues(diffTicks).tickSize(9).tickFormat(''))
  .call(styleAxis);

frame(L);
frame(R);

// titles and labels
svg.append('text')
  .attr('x', (L.l + L.r) / 2).attr('y', 36)
  .attr('text-anchor', 'middle')
  .style('font-size', '30.6px').style('font-weight', 'bold')
  .text('measured LAmax - calculated LAmax');
svg.append('text')
  .attr('x', (L.l + L.r) / 2).attr('y', 710)
  .attr('text-anchor', 'middle')
  .style('font-size', fontSize + 'px')
  .text('speed');
svg.append('text')
  .attr('transform', 'translate(41,' + ((L.t + L.b) / 2 + 4) + ') rotate(-90)')
  .attr('text-anchor', 'middle')
  .style('font-size', fontSize + 'px')
  .text('diff_model');

// ---- legends ----
function legendBox(x, y, w, h) {
  svg.append('rect')
    .attr('x', x).attr('y', y).attr('width', w).attr('height', h).attr('rx', 5)
    .style('fill', '#fff').style('fill-opacity', 0.8)
    .style('stroke', '#cccccc').style('stroke-width', 2);
}

legendBox(662.3, 541.7, 273.4, 86);
var legColors = ['#ffa500', '#ff0000'];
classNames.forEach(function(name, i) {
  var cy = 565 + i * 39;
  svg.append('circle').attr('cx', 697.7).attr('cy', cy).attr('r', 9.3).style('fill', legColors[i]);
  svg.append('text').attr('x', 743.3).attr('y', cy + 8.5)
    .style('font-size', fontSize + 'px')
    .text(name + ' (' + classCounts[i] + ')');
});

legendBox(1046.7, 463.3, 354, 162.7);
var legR = svg.append('g');
var rowY = [483.3, 522.3, 560.7, 601.3];
legR.append('line').attr('x1', 1052.7).attr('x2', 1107.7).attr('y1', rowY[0]).attr('y2', rowY[0])
  .style('stroke', '#ff7f0e').style('stroke-opacity', 0.85).style('stroke-width', 3.75);
legR.append('line').attr('x1', 1052.7).attr('x2', 1107.7).attr('y1', rowY[1]).attr('y2', rowY[1])
  .style('stroke', '#1f77b4').style('stroke-opacity', 0.8).style('stroke-width', 3.75)
  .style('stroke-dasharray', '13.9,6');
legR.append('line').attr('x1', 1052.7).attr('x2', 1107.7).attr('y1', rowY[2]).attr('y2', rowY[2])
  .style('stroke', '#1f77b4').style('stroke-opacity', 0.8).style('stroke-width', 3.75);
legR.append('rect').attr('x', 1055).attr('y', rowY[3] - 8.5).attr('width', 51).attr('height', 17)
  .style('fill', '#1f77b4').style('fill-opacity', 0.5);

var fmt = d3.format('+.1f');
var legTexts = ['KDE', '95% pct = ' + fmt(pct95) + ' dB', '99% pct = ' + fmt(pct99) + ' dB', 'histogram'];
legTexts.forEach(function(t, i) {
  legR.append('text').attr('x', 1127.7).attr('y', rowY[i] + (i === 0 ? 12 : 11))
    .style('font-size', fontSize + 'px')
    .text(t);
});
</script>
</body>
</html>
